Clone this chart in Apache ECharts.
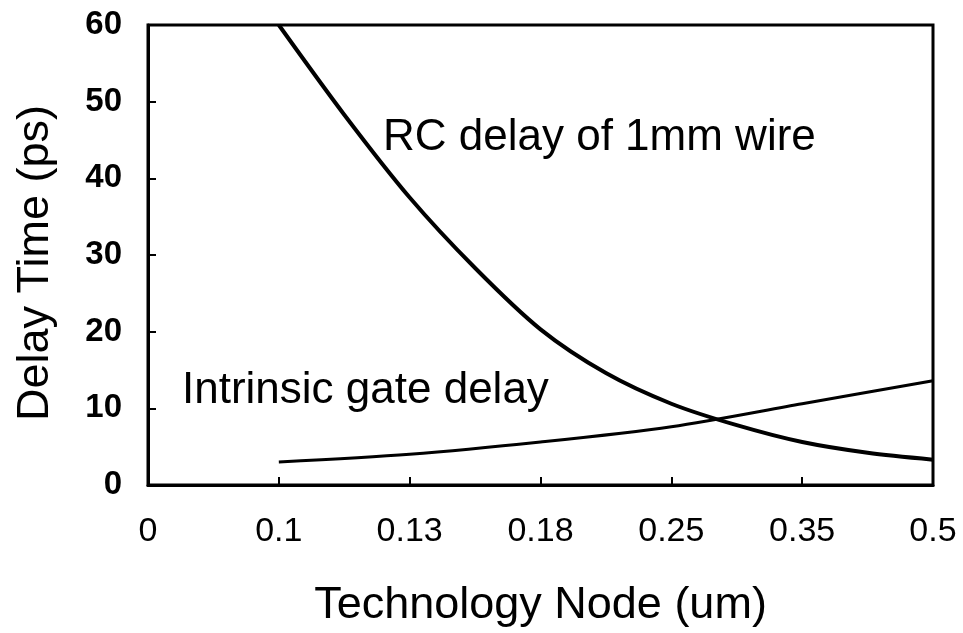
<!DOCTYPE html>
<html>
<head>
<meta charset="utf-8">
<script src="https://cdn.jsdelivr.net/npm/echarts@6/dist/echarts.min.js"></script>
<style>
  html, body { margin: 0; padding: 0; background: #fff; }
  #chart { width: 963px; height: 633px; }
</style>
</head>
<body>
<div id="chart"></div>
<script>
// technology nodes, evenly spaced on the x axis (position = index)
const nodeLabels = ['0', '0.1', '0.13', '0.18', '0.25', '0.35', '0.5'];

// RC delay of 1mm wire (ps), read at node positions
const rcPos = [1, 1.5, 2, 2.5, 3, 3.5, 4, 4.5, 5, 5.5, 6];
const rcDelay = [60, 48.3, 37.5, 28.3, 20.3, 14.6, 10.6, 7.8, 5.6, 4.2, 3.3];

// intrinsic gate delay (ps)
const gatePos = [1, 2, 3, 4, 5, 6];
const gateDelay = [3.0, 4.0, 5.6, 7.6, 10.6, 13.6];

const font = 'Liberation Sans, Arial, sans-serif';

let chart = echarts.init(document.getElementById('chart'));
chart.setOption({
  animation: false,
  backgroundColor: '#fff',
  grid: {
    left: 148,
    right: 30,
    top: 25,
    bottom: 148,
    outerBoundsMode: 'none',
    containLabel: false,
    show: true,
    borderColor: '#000',
    borderWidth: 3
  },
  xAxis: {
    type: 'value',
    min: 0,
    max: 6,
    interval: 1,
    name: 'Technology Node (um)',
    nameLocation: 'middle',
    nameGap: 98,
    nameTextStyle: { color: '#000', fontSize: 45, fontFamily: font },
    axisLine: { lineStyle: { color: '#000', width: 3 } },
    axisTick: { inside: true, length: 8, lineStyle: { color: '#000', width: 2 } },
    axisLabel: {
      color: '#000',
      fontSize: 34,
      fontFamily: font,
      margin: 30,
      formatter: v => nodeLabels[v]
    },
    splitLine: { show: false }
  },
  yAxis: {
    type: 'value',
    min: 0,
    max: 60,
    interval: 10,
    name: 'Delay Time (ps)',
    nameLocation: 'middle',
    nameGap: 90,
    nameTextStyle: { color: '#000', fontSize: 45, fontFamily: font, padding: [0, 16, 0, 0] },
    axisLine: { lineStyle: { color: '#000', width: 3 } },
    axisTick: { inside: true, length: 8, lineStyle: { color: '#000', width: 2 } },
    axisLabel: { color: '#000', fontSize: 33, fontWeight: 'bold', fontFamily: font, margin: 26 },
    splitLine: { show: false }
  },
  series: [
    {
      name: 'RC delay of 1mm wire',
      type: 'line',
      data: rcPos.map((x, i) => [x, rcDelay[i]]),
      smooth: 0.3,
      symbol: 'none',
      lineStyle: { color: '#000', width: 4 }
    },
    {
      name: 'Intrinsic gate delay',
      type: 'line',
      data: gatePos.map((x, i) => [x, gateDelay[i]]),
      smooth: 0.3,
      symbol: 'none',
      lineStyle: { color: '#000', width: 3 }
    }
  ],
  graphic: [
    {
      type: 'text',
      left: 383,
      top: 116,
      style: { text: 'RC delay of 1mm wire', fill: '#000', fontSize: 44, fontFamily: font }
    },
    {
      type: 'text',
      left: 182,
      top: 369,
      style: { text: 'Intrinsic gate delay', fill: '#000', fontSize: 44, fontFamily: font }
    }
  ]
});
</script>
</body>
</html>
